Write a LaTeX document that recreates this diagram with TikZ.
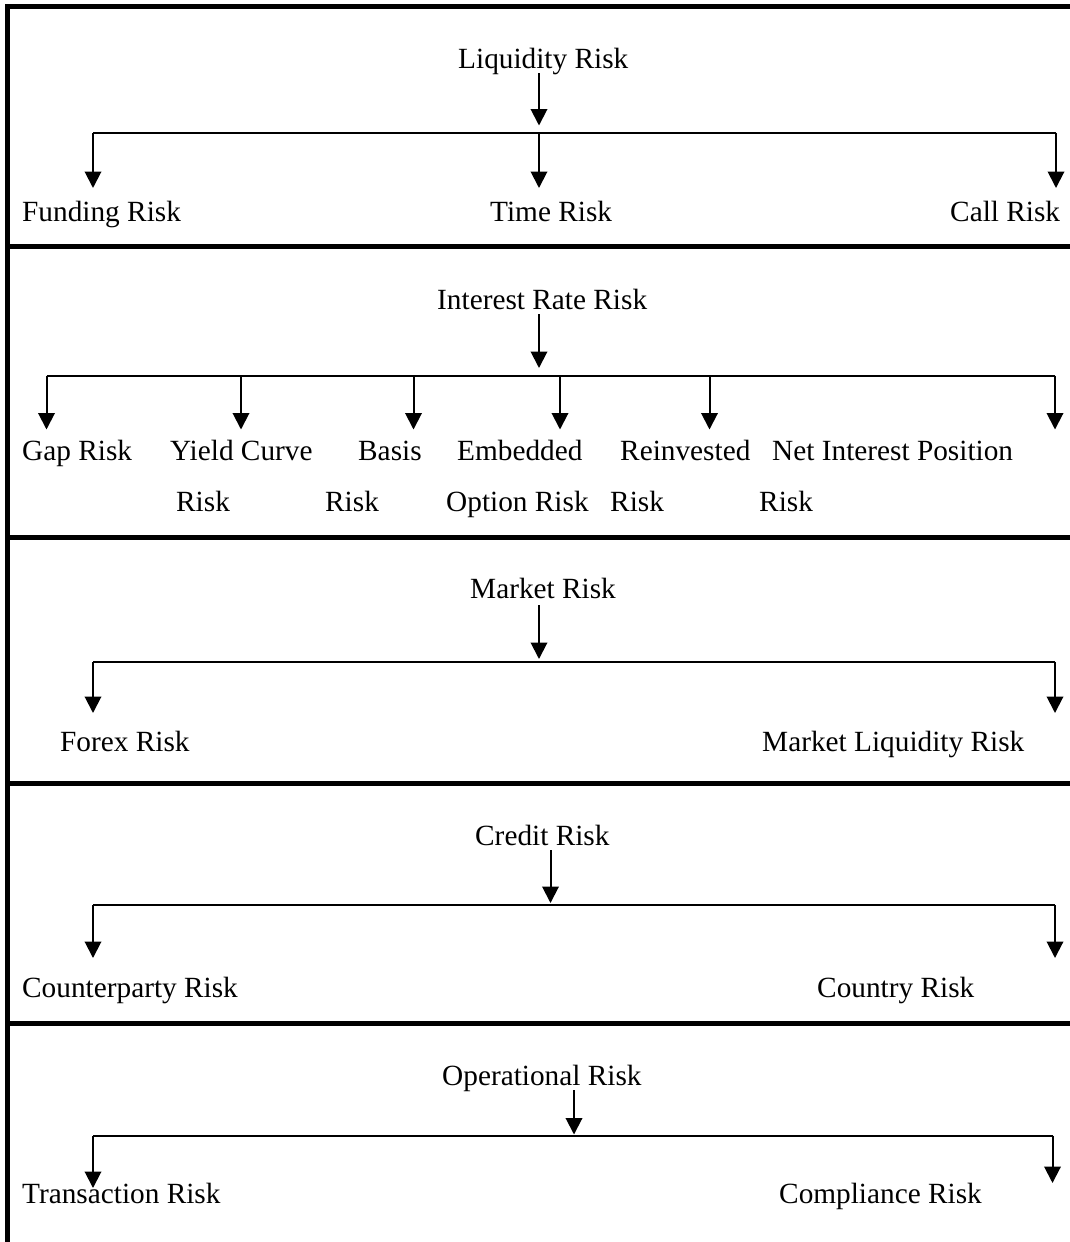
\documentclass[tikz,border=0pt]{standalone}
\usepackage{fontspec}
\setmainfont{Liberation Serif}
\usetikzlibrary{arrows.meta}
\begin{document}
\begin{tikzpicture}[x=1pt,y=-1pt,
  lbl/.style={font=\fontsize{29.3}{35}\selectfont, anchor=base west, inner sep=0pt},
  border/.style={line width=4.6pt, line join=miter},
  bar/.style={line width=2pt},
  arr/.style={line width=2pt, -{Triangle[length=16.5pt,width=16.5pt]}}]
\useasboundingbox (0,0) rectangle (1070,1242);
% frame and separators
\coordinate (bl) at (7.5,1242);
\coordinate (tl) at (7.5,6.5);
\coordinate (tr) at (1070,6.5);
\draw[border] (bl) -- (tl) -- (tr);
\foreach \y/\n in {246.5/s1,537.5/s2,783.5/s3,1023.5/s4}{
  \coordinate (\n a) at (7.5,\y);
  \coordinate (\n b) at (1070,\y);
  \draw[border] (\n a) -- (\n b);
}
% ---------- Section 1: Liquidity Risk
\node[lbl] (liq) at (458,68) {Liquidity Risk};
\node[lbl] (fund) at (22,221) {Funding Risk};
\node[lbl] (time) at (490,221) {Time Risk};
\node[lbl] (call) at (950,221) {Call Risk};
\coordinate (liqT) at (539,73);
\coordinate (liqJ) at (539,132.5);
\coordinate (liqL) at (93,132.5);
\coordinate (liqR) at (1056,132.5);
\coordinate (fundA) at (93,188);
\coordinate (timeA) at (539,188);
\coordinate (callA) at (1056,188);
\draw[arr] (liqT) -- ([yshift=7pt]liqJ);
\draw[bar] (liqL) -- (liqR);
\draw[arr] (liqL) -- (fundA);
\draw[arr] (liqJ) -- (timeA);
\draw[arr] (liqR) -- (callA);
% ---------- Section 2: Interest Rate Risk
\node[lbl] (irr) at (437,309) {Interest Rate Risk};
\node[lbl] (gap) at (22,460) {Gap Risk};
\node[lbl] (yc1) at (170,460) {Yield Curve};
\node[lbl] (yc2) at (176,511.5) {Risk};
\node[lbl] (bas1) at (358,460) {Basis};
\node[lbl] (bas2) at (325,511.5) {Risk};
\node[lbl] (emb1) at (457,460) {Embedded};
\node[lbl] (emb2) at (446,511.5) {Option Risk};
\node[lbl] (rei1) at (620,460) {Reinvested};
\node[lbl] (rei2) at (610,511.5) {Risk};
\node[lbl] (nip1) at (772,460) {Net Interest Position};
\node[lbl] (nip2) at (759,511.5) {Risk};
\coordinate (irrT) at (539,314);
\coordinate (irrJ) at (539,375.5);
\coordinate (irrL) at (46.5,375.5);
\coordinate (irrR) at (1055,375.5);
\draw[arr] (irrT) -- ([yshift=7.5pt]irrJ);
\draw[bar] (irrL) -- (irrR);
\foreach \x/\n in {46.5/gapA,241/ycA,413.5/basA,560/embA,709.5/reiA,1055/nipA}{
  \coordinate (\n) at (\x,429.5);
  \coordinate (\n0) at (\x,375.5);
  \draw[arr] (\n0) -- (\n);
}
% ---------- Section 3: Market Risk
\node[lbl] (mkt) at (470,598) {Market Risk};
\node[lbl] (fx) at (60,751) {Forex Risk};
\node[lbl] (mlr) at (762,751) {Market Liquidity Risk};
\coordinate (mktT) at (539,605);
\coordinate (mktJ) at (539,661.5);
\coordinate (mktL) at (93,661.5);
\coordinate (mktR) at (1055,661.5);
\coordinate (fxA) at (93,713);
\coordinate (mlrA) at (1055,713);
\draw[arr] (mktT) -- ([yshift=2.5pt]mktJ);
\draw[bar] (mktL) -- (mktR);
\draw[arr] (mktL) -- (fxA);
\draw[arr] (mktR) -- (mlrA);
% ---------- Section 4: Credit Risk
\node[lbl] (crd) at (475,845) {Credit Risk};
\node[lbl] (cp) at (22,997.5) {Counterparty Risk};
\node[lbl] (ctry) at (817,997.5) {Country Risk};
\coordinate (crdT) at (550.5,850);
\coordinate (crdJ) at (550.5,905);
\coordinate (crdL) at (93,905);
\coordinate (crdR) at (1055,905);
\coordinate (cpA) at (93,958);
\coordinate (ctryA) at (1055,958);
\draw[arr] (crdT) -- ([yshift=2pt]crdJ);
\draw[bar] (crdL) -- (crdR);
\draw[arr] (crdL) -- (cpA);
\draw[arr] (crdR) -- (ctryA);
% ---------- Section 5: Operational Risk
\node[lbl] (ops) at (442,1085) {Operational Risk};
\node[lbl] (tr) at (22,1203) {Transaction Risk};
\node[lbl] (comp) at (779,1203) {Compliance Risk};
\coordinate (opsT) at (574,1090);
\coordinate (opsJ) at (574,1135.5);
\coordinate (opsL) at (93,1135.5);
\coordinate (opsR) at (1052.5,1135.5);
\coordinate (trA) at (93,1188);
\coordinate (compA) at (1052.5,1183);
\draw[arr] (opsT) -- ([yshift=1pt]opsJ);
\draw[bar] (opsL) -- (opsR);
\draw[arr] (opsL) -- (trA);
\draw[arr] (opsR) -- (compA);
\end{tikzpicture}
\end{document}
